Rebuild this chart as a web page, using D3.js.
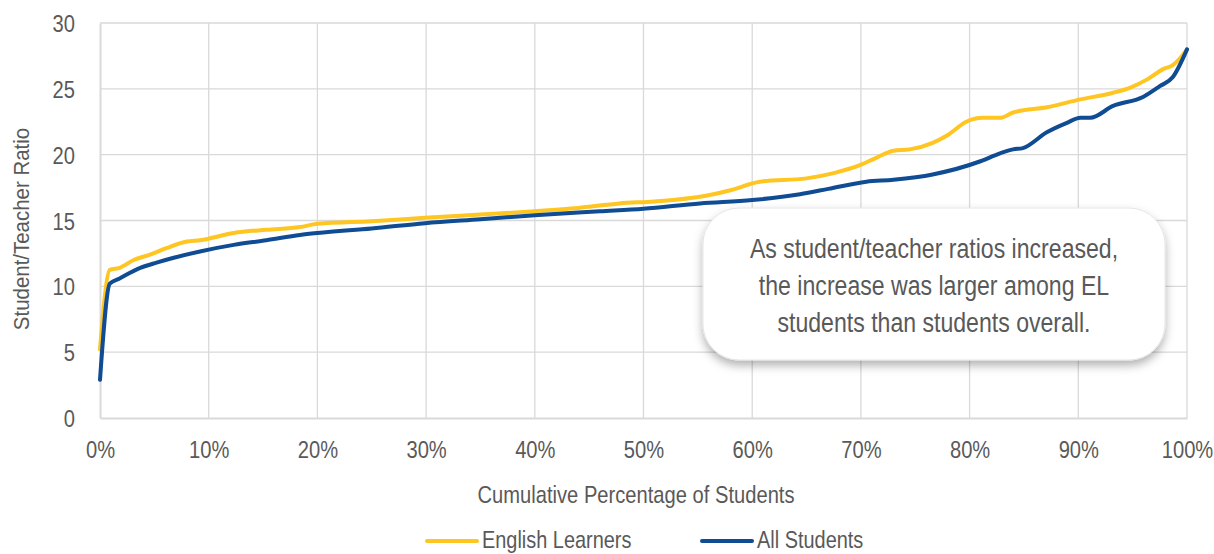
<!DOCTYPE html>
<html lang="en">
<head>
  <meta charset="UTF-8">
  <title>Student/Teacher Ratio</title>
  <script src="https://cdn.jsdelivr.net/npm/d3@7"></script>
  <style>
    html, body { margin: 0; padding: 0; background: #fff; }
    svg { display: block; font-family: "Liberation Sans", Arial, sans-serif; }
  </style>
</head>
<body>
  <svg id="chart" width="1214" height="554"></svg>
  <script>
    // data
    var elPct = [0, 0.9, 1.8, 3.1, 4.6, 6.1, 8, 9.2, 12.3, 15.3, 18.4, 20, 25, 29.9, 35, 40, 44, 47.8, 51, 55.2, 58, 60.7, 65, 67.5, 69.9, 71.5, 73, 74.5, 76.6, 78, 79.7, 81.2, 82.8, 84, 87.1, 90.2, 93.2, 94.8, 96.3, 97.8, 98.7, 100]
    var elRatio = [5.2, 11.25, 11.4, 12.0, 12.4, 12.9, 13.4, 13.5, 14.05, 14.3, 14.5, 14.75, 14.95, 15.2, 15.45, 15.7, 15.95, 16.3, 16.45, 16.8, 17.3, 17.95, 18.2, 18.6, 19.2, 19.8, 20.3, 20.4, 20.9, 21.5, 22.5, 22.8, 22.8, 23.2, 23.6, 24.2, 24.7, 25.1, 25.7, 26.5, 26.8, 28]
    var allPct = [0, 0.9, 1.8, 3.7, 5.2, 6.7, 9.2, 12.3, 15.3, 18.4, 20, 25, 29.9, 35, 40, 46, 50, 55.2, 60, 64.4, 67, 70.5, 73, 76.6, 81, 82.8, 84, 84.9, 87.1, 88.9, 90.2, 91.1, 93.2, 96, 97.5, 98.7, 100]
    var allRatio = [2.9, 10.2, 10.6, 11.4, 11.8, 12.15, 12.65, 13.15, 13.5, 13.9, 14.05, 14.4, 14.8, 15.1, 15.4, 15.7, 15.9, 16.3, 16.55, 17.0, 17.4, 17.95, 18.1, 18.5, 19.5, 20.1, 20.4, 20.5, 21.7, 22.4, 22.8, 22.8, 23.7, 24.4, 25.2, 25.9, 28.0]
    var xTicks = [0, 10, 20, 30, 40, 50, 60, 70, 80, 90, 100]
    var yTicks = [0, 5, 10, 15, 20, 25, 30]
    var seriesNames = ['English Learners', 'All Students']
    var noteLines = ['As student/teacher ratios increased,', 'the increase was larger among EL', 'students than students overall.']

    var colorEL = '#FFC520'
    var colorAll = '#0F4C93'
    var colorGrid = '#d9d9d9'
    var colorText = '#595959'
    // the original uses a narrow face; squeeze the regular one
    var narrow = 0.84

    var margin = { left: 100, right: 27, top: 23, bottom: 136 }
    var width = 1214, height = 554
    var svg = d3.select('#chart')

    var x = d3.scaleLinear().domain([0, 100]).range([margin.left, width - margin.right])
    var y = d3.scaleLinear().domain([0, 30]).range([height - margin.bottom, margin.top])

    // narrow text helper: place a group, squeeze the text inside it
    function label(parent, tx, ty, str, size, anchor, rotate, squeeze) {
      var g = parent.append('g')
        .attr('transform', 'translate(' + tx + ',' + ty + ')' +
          (rotate ? ' rotate(' + rotate + ')' : '') +
          ' scale(' + (squeeze || narrow) + ',1)')
      return g.append('text')
        .attr('text-anchor', anchor)
        .attr('fill', colorText)
        .attr('font-size', size)
        .text(str)
    }

    // gridlines
    svg.append('g')
      .selectAll('line')
      .data(yTicks.slice(1))
      .join('line')
      .attr('x1', x(0)).attr('x2', x(100))
      .attr('y1', d => y(d)).attr('y2', d => y(d))
      .attr('stroke', colorGrid).attr('stroke-width', 1.3)
    svg.append('g')
      .selectAll('line')
      .data(xTicks.slice(1))
      .join('line')
      .attr('x1', d => x(d)).attr('x2', d => x(d))
      .attr('y1', y(0)).attr('y2', y(30))
      .attr('stroke', colorGrid).attr('stroke-width', 1.3)

    // axes (lines from d3, labels squeezed)
    var xAxis = svg.append('g')
      .attr('transform', 'translate(0,' + y(0) + ')')
      .call(d3.axisBottom(x).tickValues(xTicks).tickFormat(d => d + '%').tickSize(0))
    var yAxis = svg.append('g')
      .attr('transform', 'translate(' + x(0) + ',0)')
      .call(d3.axisLeft(y).tickValues(yTicks).tickSize(0))
    xAxis.select('.domain').attr('stroke', colorGrid).attr('stroke-width', 2)
    yAxis.select('.domain').attr('stroke', colorGrid).attr('stroke-width', 2)
    xAxis.selectAll('.tick text').remove()
    yAxis.selectAll('.tick text').remove()
    xAxis.selectAll('.tick').each(function (d) {
      label(d3.select(this), 0, 40, d + '%', 24, 'middle')
    })
    yAxis.selectAll('.tick').each(function (d) {
      label(d3.select(this), -25, 8.5, d, 24, 'end')
    })

    // axis titles
    label(svg, 636, 503, 'Cumulative Percentage of Students', 24, 'middle')
    label(svg, 29, 229, 'Student/Teacher Ratio', 22, 'middle', -90, 0.93)

    // lines
    var line = d3.line()
      .x(d => x(d[0]))
      .y(d => y(d[1]))
      .curve(d3.curveMonotoneX)

    svg.append('path')
      .datum(d3.zip(elPct, elRatio))
      .attr('d', line)
      .attr('fill', 'none').attr('stroke', colorEL).attr('stroke-width', 4)
      .attr('stroke-linejoin', 'round').attr('stroke-linecap', 'round')
    svg.append('path')
      .datum(d3.zip(allPct, allRatio))
      .attr('d', line)
      .attr('fill', 'none').attr('stroke', colorAll).attr('stroke-width', 4)
      .attr('stroke-linejoin', 'round').attr('stroke-linecap', 'round')

    // callout box
    var defs = svg.append('defs')
    var f = defs.append('filter').attr('id', 'shadow')
      .attr('x', '-10%').attr('y', '-10%').attr('width', '120%').attr('height', '135%')
    f.append('feDropShadow')
      .attr('dx', 0).attr('dy', 5).attr('stdDeviation', 5)
      .attr('flood-color', '#000').attr('flood-opacity', 0.3)

    var box = { x: 703, y: 208, w: 462, h: 152 }
    svg.append('rect')
      .attr('x', box.x).attr('y', box.y)
      .attr('width', box.w).attr('height', box.h)
      .attr('rx', 36).attr('ry', 36)
      .attr('fill', '#fff')
      .attr('stroke', '#e6e6e6').attr('stroke-width', 1)
      .attr('filter', 'url(#shadow)')
    var note = svg.append('g')
    noteLines.forEach(function (str, i) {
      label(note, box.x + box.w / 2, 258 + i * 37, str, 27.5, 'middle')
    })

    // legend
    var legend = svg.append('g')
    var legendX = [427, 702]
    var legendColors = [colorEL, colorAll]
    seriesNames.forEach(function (name, i) {
      legend.append('line')
        .attr('x1', legendX[i]).attr('x2', legendX[i] + 50)
        .attr('y1', 541).attr('y2', 541)
        .attr('stroke', legendColors[i]).attr('stroke-width', 4)
        .attr('stroke-linecap', 'round')
      label(legend, legendX[i] + 55, 548, name, 24, 'start', 0, 0.83)
    })
  </script>
</body>
</html>
